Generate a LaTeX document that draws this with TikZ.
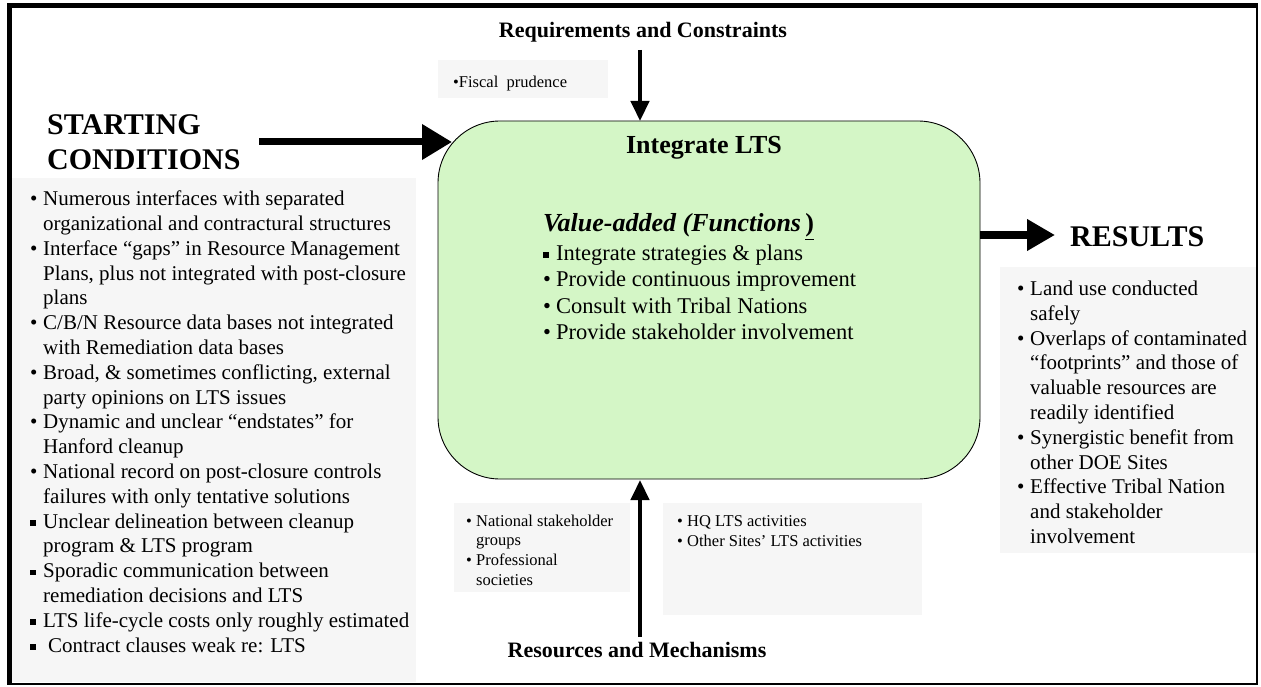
\documentclass[tikz,border=0pt]{standalone}
\usepackage{fontspec}
\setmainfont{Liberation Serif}
\usetikzlibrary{arrows.meta,calc}
\definecolor{panelgray}{RGB}{246,246,246}
\definecolor{ltsgreen}{RGB}{212,246,198}
\newcommand\fsz[2]{\fontsize{#1}{#2}\selectfont}
% bullets with a fixed hanging indent
\newlength\bwid
\newcommand\rb{\makebox[\bwid][l]{•}}
\newcommand\sqb{\makebox[\bwid][l]{\raisebox{0.12em}{\rule{0.27em}{0.27em}}}}
\newcommand\ind{\hspace*{\bwid}}
\begin{document}
\begin{tikzpicture}[x=1pt,y=-1pt,
  panel/.style={fill=panelgray,draw=none,inner sep=0pt,anchor=north west},
  ltsbox/.style={draw=black,line width=0.9pt,fill=ltsgreen,rounded corners=62pt,inner sep=0pt},
  heading/.style={font=\fsz{30}{35}\bfseries,inner sep=0pt},
  caption/.style={font=\fsz{22}{25}\bfseries,inner sep=0pt},
  listtext/.style={font=\fsz{21}{24.8},align=left,inner sep=0pt,anchor=north west,
    execute at begin node={\global\bwid=13pt}},
  smalltext/.style={font=\fsz{16.5}{19.6},align=left,inner sep=0pt,anchor=north west,
    execute at begin node={\global\bwid=10pt}},
  bigflow/.style={line width=7pt,-{Triangle[length=30pt,width=34pt]}},
  outflow/.style={line width=8pt,-{Triangle[length=28pt,width=30pt]}},
  thinflow/.style={line width=4.5pt,-{Triangle[length=20pt,width=18pt]}}]
\useasboundingbox (0,0) rectangle (1261,687);
\fill[white] (0,0) rectangle (1261,687);

% outer frame, heavier on the left and top
\draw[line width=2pt] (9,5) rectangle (1257,684);
\fill[black] (7,3) rectangle (12,685);
\fill[black] (7,3) rectangle (1258,8);

% text panels
\node[panel,minimum width=170pt,minimum height=38pt] (fiscalbox) at (438,60) {};
\node[panel,minimum width=404pt,minimum height=504pt] (startbox) at (12,178) {};
\node[panel,minimum width=256pt,minimum height=286pt] (resultbox) at (1000,267) {};
\node[panel,minimum width=176pt,minimum height=89pt] (natbox) at (454,503) {};
\node[panel,minimum width=259pt,minimum height=112pt] (hqbox) at (663,503) {};

% central activity
\node[ltsbox,minimum width=542pt,minimum height=358pt] (lts) at (709,300) {};
\node[font=\fsz{26}{30}\bfseries,inner sep=0pt,anchor=base] (ltstitle) at (704,154) {Integrate LTS};
\node[font=\fsz{26}{30}\bfseries,inner sep=0pt,anchor=base west] (valuetitle) at (543,232)
  {\itshape Value-added (Functions\,\upshape\underline{)}};
\node[font=\fsz{22.5}{26.3},align=left,inner sep=0pt,anchor=north west,
  execute at begin node={\global\bwid=13pt}] (functions) at (543,244.6)
  {\sqb Integrate strategies \& plans\\
   \rb Provide continuous improvement\\
   \rb Consult with Tribal Nations\\
   \rb Provide stakeholder involvement};

% headings and captions
\node[caption,anchor=base] (req) at (643,38) {Requirements and Constraints};
\node[caption,anchor=base] (res) at (637,657) {Resources and Mechanisms};
\node[heading,anchor=base west] (start) at (47,135) {STARTING};
\node[heading,anchor=base west] (startb) at (47,170) {CONDITIONS};
\node[heading,anchor=base west] (results) at (1070,247) {RESULTS};

% list contents
\node[smalltext] (fiscal) at (453,76) {•Fiscal\ \ prudence};
\node[listtext] (startlist) at (30,190.7) {%
\rb Numerous interfaces with separated\\
\ind organizational and contractural structures\\
\rb Interface “gaps” in Resource Management\\
\ind Plans, plus not integrated with post-closure\\
\ind plans\\
\rb C/B/N Resource data bases not integrated\\
\ind with Remediation data bases\\
\rb Broad, \& sometimes conflicting, external\\
\ind party opinions on LTS issues\\
\rb Dynamic and unclear “endstates” for\\
\ind Hanford cleanup\\
\rb National record on post-closure controls\\
\ind failures with only tentative solutions\\
\sqb Unclear delineation between cleanup\\
\ind program \& LTS program\\
\sqb Sporadic communication between\\
\ind remediation decisions and LTS\\
\sqb LTS life-cycle costs only roughly estimated\\
\sqb\hspace{5pt}Contract clauses weak re: LTS};
\node[listtext] (resultlist) at (1017,280.7) {%
\rb Land use conducted\\
\ind safely\\
\rb Overlaps of contaminated\\
\ind “footprints” and those of\\
\ind valuable resources are\\
\ind readily identified\\
\rb Synergistic benefit from\\
\ind other DOE Sites\\
\rb Effective Tribal Nation\\
\ind and stakeholder\\
\ind involvement};
\node[smalltext] (natlist) at (466,514.7) {%
\rb National stakeholder\\
\ind groups\\
\rb Professional\\
\ind societies};
\node[smalltext] (hqlist) at (677,515.7) {%
\rb HQ LTS activities\\
\rb Other Sites’ LTS activities};

% flows into and out of the activity
\coordinate (reqin) at (640,121);
\coordinate (startin) at (452,142);
\coordinate (resultout) at (1055,235);
\coordinate (resin) at (640,480);
\draw[thinflow] (reqin |- 0,50) -- (reqin);
\draw[bigflow] (259,142) -- (startin);
\draw[outflow] (lts.east |- resultout) -- (resultout);
\draw[thinflow] (resin |- 0,637) -- (resin);
\end{tikzpicture}
\end{document}
